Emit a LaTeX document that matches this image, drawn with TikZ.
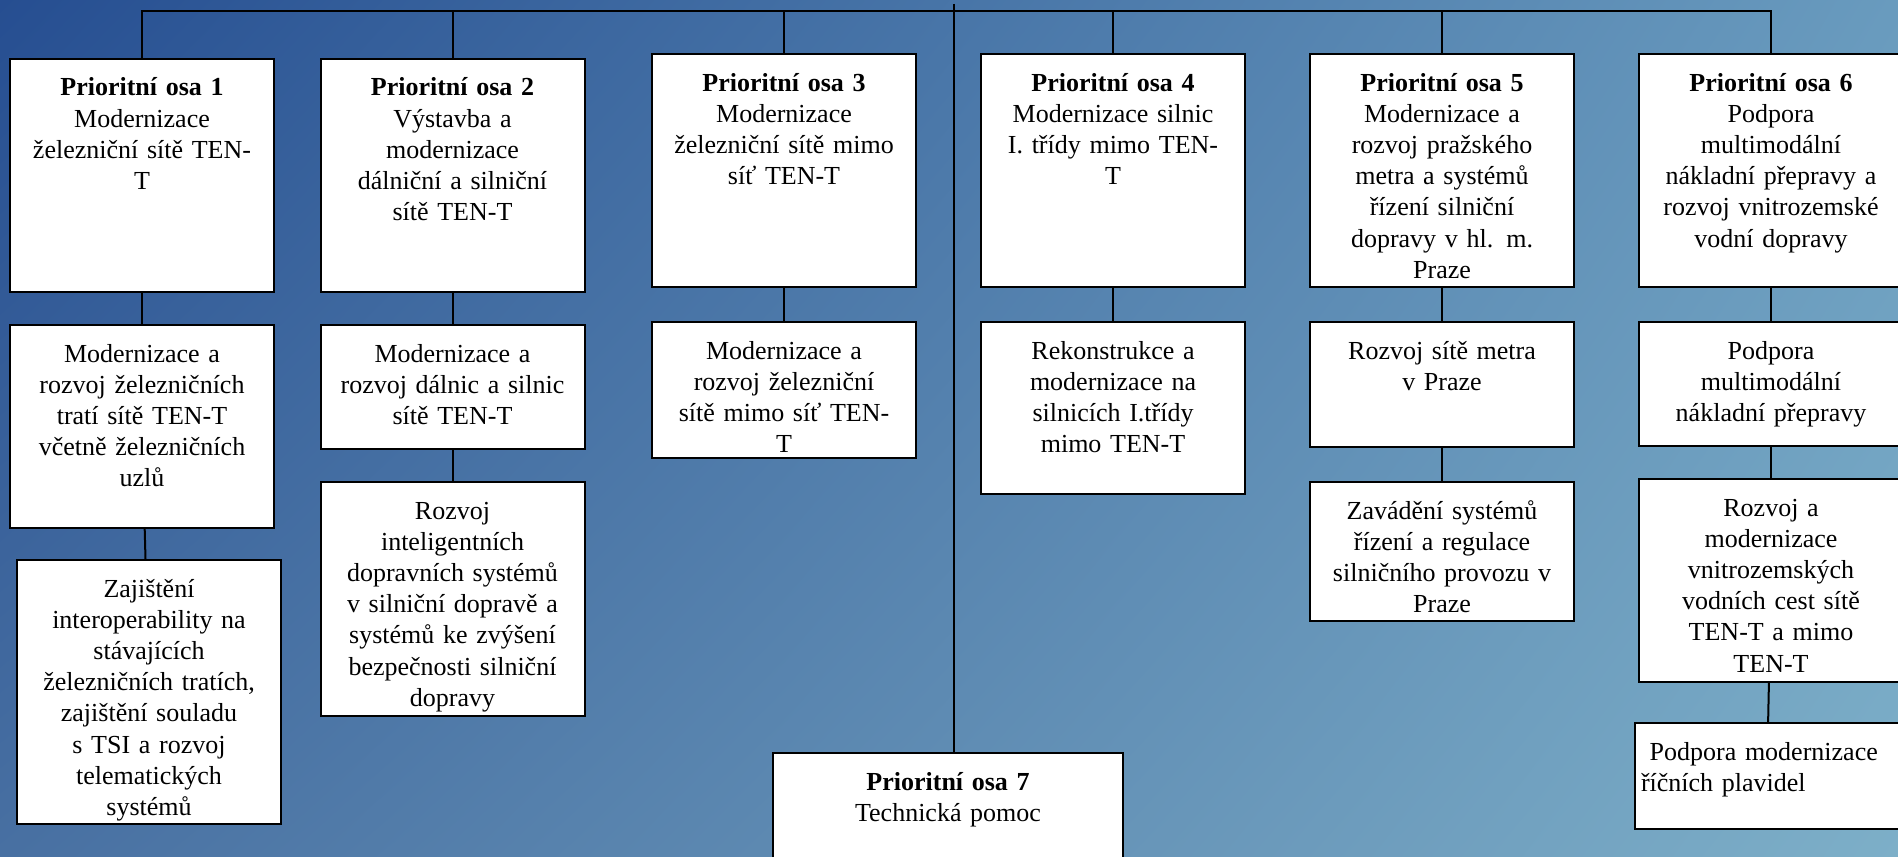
\documentclass[tikz,border=0pt]{standalone}
\usepackage{fontspec}
\setmainfont{Liberation Serif}
\usepackage{tikz}
\usetikzlibrary{positioning,shadings}

\definecolor{bgul}{RGB}{38,78,145}
\definecolor{bgur}{RGB}{105,155,190}
\definecolor{bgll}{RGB}{72,112,162}
\definecolor{bglr}{RGB}{125,175,200}

\begin{document}
\begin{tikzpicture}[
    x=0.5pt, y=-0.5pt,
    node distance=16pt,
    osa/.style={rectangle, draw, fill=white, line width=1pt, text width=126pt, inner xsep=3pt, inner ysep=0pt,
        align=center, font=\fontsize{13pt}{15.6pt}\selectfont, text height=18.5pt, text depth=#1},
    link/.style={line width=1pt}
]
\useasboundingbox (0,0) rectangle (1898,856);
\clip (0,0) rectangle (1898,856);
\shade[upper left=bgul, upper right=bgur, lower left=bgll, lower right=bglr] (0,0) rectangle (1898,856);

\node[osa=98pt, anchor=north] (p1) at (142,58) {\textbf{Prioritní osa 1}\\Modernizace\\železniční sítě TEN-\\T};
\node[osa=98pt, anchor=north] (p2) at (452.5,58) {\textbf{Prioritní osa 2}\\Výstavba a\\modernizace\\dálniční a silniční\\sítě TEN-T};
\node[osa=98pt, anchor=north] (p3) at (784,53) {\textbf{Prioritní osa 3}\\Modernizace\\železniční sítě mimo\\síť TEN-T};
\node[osa=98pt, anchor=north] (p4) at (1113,53) {\textbf{Prioritní osa 4}\\Modernizace silnic\\I. třídy mimo TEN-\\T};
\node[osa=98pt, anchor=north] (p5) at (1442,53) {\textbf{Prioritní osa 5}\\Modernizace a\\rozvoj pražského\\metra a systémů\\řízení silniční\\dopravy v hl. m.\\Praze};
\node[osa=98pt, anchor=north] (p6) at (1771,53) {\textbf{Prioritní osa 6}\\Podpora\\multimodální\\nákladní přepravy a\\rozvoj vnitrozemské\\vodní dopravy};
\node[osa=50pt, text width=169pt, anchor=north] (p7) at (948,752) {\textbf{Prioritní osa 7}\\Technická pomoc};

\node[osa=83pt, below=15.5pt of p1] (m1) {Modernizace a\\rozvoj železničních\\tratí sítě TEN-T\\včetně železničních\\uzlů};
\node[osa=113.5pt, below=15pt of m1, xshift=3.5pt] (n1) {Zajištění\\interoperability na\\stávajících\\železničních tratích,\\zajištění souladu\\s TSI a rozvoj\\telematických\\systémů};
\node[osa=43.5pt, below=15.5pt of p2] (m2) {Modernizace a\\rozvoj dálnic a silnic\\sítě TEN-T};
\node[osa=98.5pt, below=15.5pt of m2] (n2) {Rozvoj\\inteligentních\\dopravních systémů\\v silniční dopravě a\\systémů ke zvýšení\\bezpečnosti silniční\\dopravy};
\node[osa=49.5pt, below=16.5pt of p3] (m3) {Modernizace a\\rozvoj železniční\\sítě mimo síť TEN-\\T};
\node[osa=67.5pt, below=16.5pt of p4] (m4) {Rekonstrukce a\\modernizace na\\silnicích I.třídy\\mimo TEN-T};
\node[osa=44pt, below=16.5pt of p5] (m5) {Rozvoj sítě metra\\v Praze};
\node[osa=51pt, below=16.5pt of m5] (n5) {Zavádění systémů\\řízení a regulace\\silničního provozu v\\Praze};
\node[osa=43.5pt, below=16.5pt of p6] (m6) {Podpora\\multimodální\\nákladní přepravy};
\node[osa=83pt, below=15.5pt of m6] (n6) {Rozvoj a\\modernizace\\vnitrozemských\\vodních cest sítě\\TEN-T a mimo\\TEN-T};
\node[osa=34.5pt, below=19.5pt of n6, xshift=-2pt, align=left] (k6) {\ Podpora modernizace\\říčních plavidel};

\coordinate (bar) at (954,11);
\coordinate (hub) at (954,4);
\draw[link] (p1.north) |- (bar) -| (p6.north);
\foreach \i in {2,...,5}
    \draw[link] (p\i.north) -- (p\i.north |- bar);
\draw[link] (hub) -- (hub |- p7.north);

\draw[link] (p1) -- (m1);
\draw[link] (m1) -- (n1);
\draw[link] (p2) -- (m2);
\draw[link] (m2) -- (n2);
\draw[link] (p3) -- (m3);
\draw[link] (p4) -- (m4);
\draw[link] (p5) -- (m5);
\draw[link] (m5) -- (n5);
\draw[link] (p6) -- (m6);
\draw[link] (m6) -- (n6);
\draw[link] (n6) -- (k6);
\end{tikzpicture}
\end{document}
